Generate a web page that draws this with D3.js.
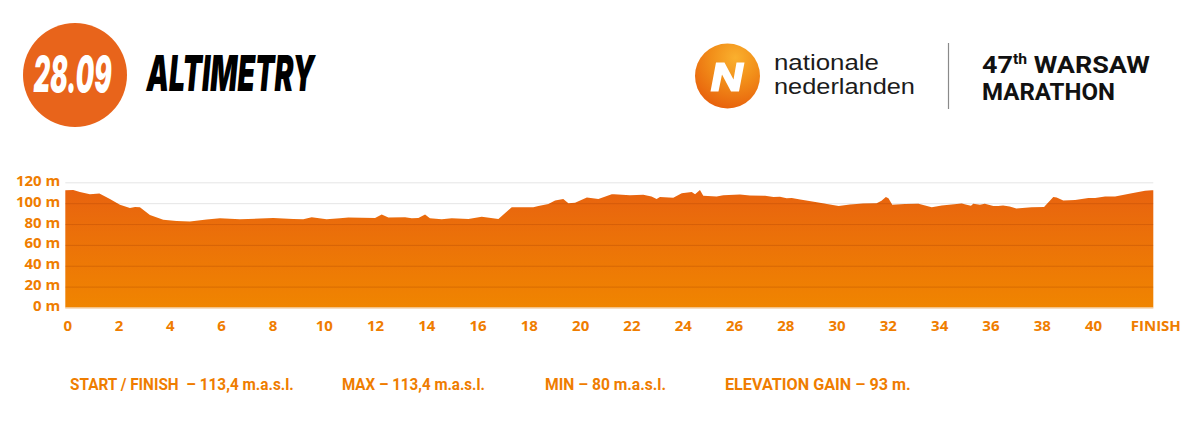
<!DOCTYPE html>
<html>
<head>
<meta charset="utf-8">
<script src="https://cdn.jsdelivr.net/npm/d3@7"></script>
<style>
  html, body { margin: 0; padding: 0; background: #ffffff; }
  svg { display: block; }
</style>
</head>
<body>
<svg id="chart" width="1200" height="426"></svg>
<script>
// ---------------- DATA ----------------
const kmData = [0, 0.31, 0.57, 0.96, 1.33, 1.74, 2.13, 2.52, 2.72, 2.91, 3.30, 3.82, 4.34, 4.86,
  5.51, 6.03, 6.81, 7.59, 8.11, 8.89, 9.28, 9.61, 10.19, 10.71, 11.04, 12.08, 12.34, 12.60,
  13.25, 13.51, 13.77, 14.03, 14.22, 14.68, 15.07, 15.72, 16.24, 16.89, 17.41, 18.25, 18.45,
  18.84, 19.10, 19.42, 19.62, 19.88, 20.34, 20.79, 21.31, 21.40, 22.02, 22.54, 22.86, 23.06,
  23.19, 23.71, 24.04, 24.43, 24.56, 24.75, 24.88, 25.40, 25.66, 26.31, 26.70, 27.29, 27.62,
  27.87, 28.13, 28.33, 28.66, 29.31, 29.70, 30.16, 30.60, 31.12, 31.64, 31.83, 32.00, 32.10,
  32.25, 32.75, 33.27, 33.79, 34.18, 34.96, 35.15, 35.32, 35.41, 35.67, 35.86, 36.19, 36.38,
  36.57, 36.83, 37.09, 37.68, 38.17, 38.53, 38.66, 38.92, 39.38, 39.90, 40.16, 40.55, 40.94,
  41.59, 42.11, 42.37, 42.43];
const elevData = [112.3, 112.6, 110.8, 108.6, 109.2, 104, 98.5, 95.4, 96.3, 96, 88.6, 84, 82.8, 82.5,
  84.3, 85.5, 84.6, 85.2, 85.8, 84.9, 84.6, 86.5, 84.6, 85.5, 86.2, 85.8, 89.2, 86.2,
  86.5, 85.5, 85.8, 89.2, 85.5, 84.6, 85.5, 84.9, 87, 84.9, 96, 96, 97.2,
  99.1, 102.5, 104, 100, 100.3, 105.5, 104, 108.6, 108.6, 107.7, 108, 106.5, 104,
  105.8, 105.2, 109.5, 110.8, 108.6, 112.6, 107, 106.5, 107.7, 108.3, 107.4, 107, 105.8,
  106.2, 104.6, 104.9, 103.4, 100.9, 99.1, 97.2, 98.8, 99.7, 100, 102.2, 105.8, 104.6,
  98.5, 99.1, 99.4, 96, 97.8, 99.7, 98.5, 97.5, 99.4, 98.5, 99.4, 97.2, 97.2,
  97.8, 96.9, 94.8, 96, 96.3, 105.8, 105.5, 102.5, 103.1, 104.9, 104.9, 106.5, 106.5,
  109.5, 112, 112.3, 112.3];

const yTickValues = [0, 20, 40, 60, 80, 100, 120];
const yTickLabels = ["0 m", "20 m", "40 m", "60 m", "80 m", "100 m", "120 m"];
const xTickValues = [0, 2, 4, 6, 8, 10, 12, 14, 16, 18, 20, 22, 24, 26, 28, 30, 32, 34, 36, 38, 40, 42.43];
const xTickLabels = ["0", "2", "4", "6", "8", "10", "12", "14", "16", "18", "20", "22", "24", "26",
  "28", "30", "32", "34", "36", "38", "40", "FINISH"];

const dateLabel = "28.09";
const titleLabel = "ALTIMETRY";
const brandLines = ["nationale", "nederlanden"];
const eventLines = ["WARSAW", "MARATHON"];
const statsLabels = ["START / FINISH  \u2013 113,4 m.a.s.l.", "MAX \u2013 113,4 m.a.s.l.",
  "MIN \u2013 80 m.a.s.l.", "ELEVATION GAIN \u2013 93 m."];

// ---------------- LAYOUT ----------------
const ORANGE_TXT = "#ef7d00";
const svg = d3.select("#chart");
svg.append("rect").attr("width", 1200).attr("height", 426).attr("fill", "#ffffff");

// place a text at (x, baseline y) and squeeze it horizontally to a target width
function fitText(sel, x0, y0, targetW) {
  sel.attr("x", 0).attr("y", 0);
  const w = sel.node().getComputedTextLength();
  const sx = w > 0 ? targetW / w : 1;
  sel.attr("transform", `translate(${x0},${y0}) scale(${sx},1)`);
  return sel;
}

const defs = svg.append("defs");
const areaGrad = defs.append("linearGradient").attr("id", "areaGrad")
  .attr("x1", 0).attr("y1", 0).attr("x2", 0).attr("y2", 1);
areaGrad.append("stop").attr("offset", "0%").attr("stop-color", "#e8630f");
areaGrad.append("stop").attr("offset", "100%").attr("stop-color", "#f08500");

const logoGrad = defs.append("radialGradient").attr("id", "logoGrad")
  .attr("cx", "62%").attr("cy", "22%").attr("r", "80%");
logoGrad.append("stop").attr("offset", "0%").attr("stop-color", "#fab02e");
logoGrad.append("stop").attr("offset", "45%").attr("stop-color", "#f2901a");
logoGrad.append("stop").attr("offset", "100%").attr("stop-color", "#e8620c");

const x = d3.scaleLinear().domain([0, 42.43]).range([65.3, 1153.3]);
const y = d3.scaleLinear().domain([0, 120]).range([307.5, 182.3]);
const plotW = x.range()[1] - x.range()[0];

const points = kmData.map((k, i) => ({ km: k, elev: elevData[i] }));

// light gridlines behind
svg.append("g")
  .attr("transform", `translate(${x.range()[0]},0)`)
  .call(d3.axisLeft(y).tickValues(yTickValues).tickSize(-plotW).tickFormat(""))
  .call(g => g.select(".domain").remove())
  .call(g => g.selectAll("line").attr("stroke", "#e5e5e5").attr("stroke-width", 1));

// area
const area = d3.area().x(d => x(d.km)).y0(y(0)).y1(d => y(d.elev)).curve(d3.curveLinear);
defs.append("clipPath").attr("id", "areaClip").append("path").datum(points).attr("d", area);

svg.append("path").datum(points).attr("d", area).attr("fill", "url(#areaGrad)");

// darker gridlines within the area
svg.append("g")
  .attr("clip-path", "url(#areaClip)")
  .append("g")
  .attr("transform", `translate(${x.range()[0]},0)`)
  .call(d3.axisLeft(y).tickValues(yTickValues.filter(v => v > 0)).tickSize(-plotW).tickFormat(""))
  .call(g => g.select(".domain").remove())
  .call(g => g.selectAll("line").attr("stroke", "rgba(140,45,0,0.22)").attr("stroke-width", 1));

// pale baseline
svg.append("line")
  .attr("x1", x.range()[0]).attr("x2", x.range()[1])
  .attr("y1", y(0) + 0.5).attr("y2", y(0) + 0.5)
  .attr("stroke", "#f7c894").attr("stroke-width", 1);

// y labels
svg.append("g")
  .attr("transform", `translate(${x.range()[0]},0)`)
  .call(d3.axisLeft(y).tickValues(yTickValues).tickSize(0).tickPadding(5)
    .tickFormat((d, i) => yTickLabels[i]))
  .call(g => g.select(".domain").remove())
  .call(g => g.selectAll("text")
    .attr("fill", ORANGE_TXT).attr("dy", "0.2em")
    .style("font-family", "'Open Sans', sans-serif").style("font-weight", 700).style("font-size", "15px"));

// x labels
svg.append("g")
  .attr("transform", `translate(0,${y(0)})`)
  .call(d3.axisBottom(x).tickValues(xTickValues).tickSize(0).tickPadding(12.5)
    .tickFormat((d, i) => xTickLabels[i]))
  .call(g => g.select(".domain").remove())
  .call(g => g.selectAll("text")
    .attr("fill", ORANGE_TXT).attr("dx", 2)
    .style("font-family", "'Open Sans', sans-serif").style("font-weight", 700).style("font-size", "15px"));

// ---------------- HEADER ----------------
svg.append("circle").attr("cx", 75).attr("cy", 75).attr("r", 52).attr("fill", "#e8641b");
fitText(svg.append("text").text(dateLabel)
  .attr("fill", "#ffffff")
  .style("font-family", "Inter, Roboto, sans-serif").style("font-weight", 900)
  .style("font-style", "italic").style("font-size", "49px"), 33.5, 91.5, 78);
fitText(svg.append("text").text(titleLabel)
  .attr("fill", "#000000")
  .style("font-family", "Inter, Roboto, sans-serif").style("font-weight", 900)
  .style("font-style", "italic").style("font-size", "50px"), 146.5, 91, 168);

// brand logo
svg.append("circle").attr("cx", 727.5).attr("cy", 76).attr("r", 32.5).attr("fill", "url(#logoGrad)");
svg.append("path")
  .attr("transform", "translate(727.5,76)")
  .attr("d", "M-17,15.5 L-11.5,-13.5 L-3,-13.5 L6,3.5 L9,-13.5 L17,-13.5 L11.5,15.5 L3.5,15.5 L-5.5,-1.5 L-9,15.5 Z")
  .attr("fill", "#ffffff");

brandLines.forEach((t, i) => {
  fitText(svg.append("text").text(t)
    .attr("fill", "#1c1c1c")
    .style("font-family", "'Liberation Sans', sans-serif").style("font-weight", 400)
    .style("font-size", "21.5px"), 774, 70 + i * 24.3, i === 0 ? 105 : 141);
});

svg.append("line").attr("x1", 948.5).attr("x2", 948.5).attr("y1", 43).attr("y2", 109)
  .attr("stroke", "#8a8a8a").attr("stroke-width", 1.2);

const ev1 = svg.append("text").attr("fill", "#111111")
  .style("font-family", "Roboto, sans-serif").style("font-weight", 700).style("font-size", "24px");
ev1.append("tspan").text("47");
ev1.append("tspan").text("th").attr("dy", -9).style("font-size", "14px");
ev1.append("tspan").text(" " + eventLines[0]).attr("dy", 9);
fitText(ev1, 982, 72.7, 168);
fitText(svg.append("text").text(eventLines[1])
  .attr("fill", "#111111")
  .style("font-family", "Roboto, sans-serif").style("font-weight", 700).style("font-size", "24px"),
  982, 100, 133);

// ---------------- STATS ----------------
const statX = [70, 342, 545, 725];
const statW = [224, 143, 121, 186];
statsLabels.forEach((t, i) => {
  fitText(svg.append("text").text(t)
    .attr("fill", ORANGE_TXT)
    .style("white-space", "pre")
    .style("font-family", "Roboto, sans-serif").style("font-weight", 700).style("font-size", "16px"),
    statX[i], 389.5, statW[i]);
});
</script>
</body>
</html>
